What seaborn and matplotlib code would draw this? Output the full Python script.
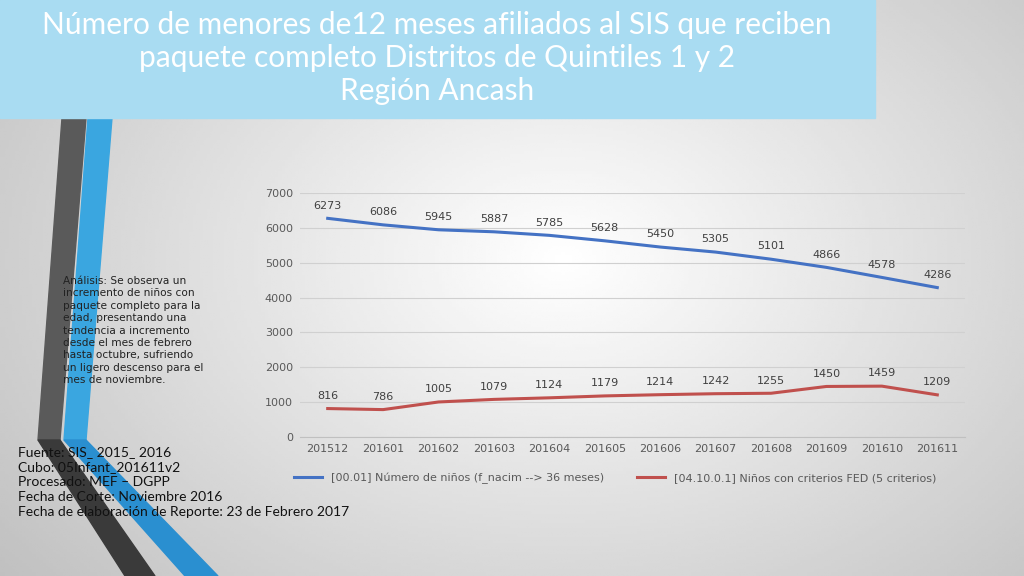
import numpy as np
import pandas as pd
import matplotlib
matplotlib.use("Agg")
import matplotlib.pyplot as plt
import seaborn as sns
from matplotlib.patches import Polygon, Rectangle
from matplotlib.lines import Line2D

periods = ["201512","201601","201602","201603","201604","201605","201606","201607","201608","201609","201610","201611"]
ninos = [6273,6086,5945,5887,5785,5628,5450,5305,5101,4866,4578,4286]
fed = [816,786,1005,1079,1124,1179,1214,1242,1255,1450,1459,1209]
s1 = "[00.01] Número de niños (f_nacim --> 36 meses)"
s2 = "[04.10.0.1] Niños con criterios FED (5 criterios)"

df = pd.DataFrame({"periodo": periods * 2, "valor": ninos + fed,
                   "serie": [s1] * len(periods) + [s2] * len(periods)})

W, H = 1024, 576
fig = plt.figure(figsize=(W/100, H/100), dpi=100)
bg = fig.add_axes([0, 0, 1, 1])
yy, xx = np.mgrid[0:1:200j, 0:1:300j]
r = np.sqrt((xx-0.55)**2 + ((yy-0.45)*0.8)**2)
bg.imshow(1 - 0.35*r, cmap="gray", vmin=0, vmax=1, extent=[0, W, H, 0], aspect="auto")
bg.set_xlim(0, W); bg.set_ylim(H, 0); bg.axis("off")
# stripes
bg.add_patch(Polygon([[62,118],[86,118],[60,440],[38,440]], color="#5a5a5a"))
bg.add_patch(Polygon([[38,440],[60,440],[155,576],[125,576]], color="#3a3a3a"))
bg.add_patch(Polygon([[88,118],[112,118],[86,440],[64,440]], color="#3aa6e0"))
bg.add_patch(Polygon([[64,440],[86,440],[218,576],[185,576]], color="#2a8fd0"))
# title box
bg.add_patch(Rectangle((0, 0), 875, 118, color="#a9dcf2"))
bg.text(437, 58, "Número de menores de12 meses afiliados al SIS que reciben\npaquete completo Distritos de Quintiles 1 y 2\nRegión Ancash",
        ha="center", va="center", color="white", fontsize=21.5, family="Lato", linespacing=1.2)
bg.text(63, 276, "Análisis: Se observa un\nincremento de niños con\npaquete completo para la\nedad, presentando una\ntendencia a incremento\ndesde el mes de febrero\nhasta octubre, sufriendo\nun ligero descenso para el\nmes de noviembre.",
        ha="left", va="top", fontsize=7.6, color="#222222", linespacing=1.3)
bg.text(18, 446, "Fuente: SIS_ 2015_ 2016\nCubo: 05Infant_201611v2\nProcesado: MEF – DGPP\nFecha de Corte: Noviembre 2016\nFecha de elaboración de Reporte: 23 de Febrero 2017",
        ha="left", va="top", fontsize=10, color="#111111", family="Lato", linespacing=1.3)

ax = fig.add_axes([300/W, 1-437/H, 665/W, 244/H])
ax.patch.set_alpha(0)
sns.lineplot(data=df, x="periodo", y="valor", hue="serie", palette=["#4472c4", "#c0504d"],
             linewidth=2.2, ax=ax, legend=False, sort=False)
ax.set_ylim(0, 7000)
ax.set_yticks(range(0, 7001, 1000))
ax.set_xlim(-0.5, len(periods)-0.5)
ax.grid(axis="y", color="#d0d0d0", linewidth=0.8)
for s in ["top", "right", "left"]:
    ax.spines[s].set_visible(False)
ax.spines["bottom"].set_color("#c0c0c0")
ax.tick_params(length=0, labelsize=8, colors="#595959", pad=5)
ax.set_xlabel(""); ax.set_ylabel("")
for i, (a, b) in enumerate(zip(ninos, fed)):
    ax.annotate(str(a), (i, a), xytext=(0, 7), textcoords="offset points", ha="center", fontsize=8, color="#404040")
    ax.annotate(str(b), (i, b), xytext=(0, 7), textcoords="offset points", ha="center", fontsize=8, color="#404040")
h = [Line2D([], [], color="#4472c4", lw=2.2), Line2D([], [], color="#c0504d", lw=2.2)]
fig.legend(h, [s1, s2], loc="center", bbox_to_anchor=(615/W, 1-478/H), ncol=2, frameon=False,
           fontsize=8, labelcolor="#595959", columnspacing=3, handlelength=2.5)
fig.savefig("out.png", dpi=100)
